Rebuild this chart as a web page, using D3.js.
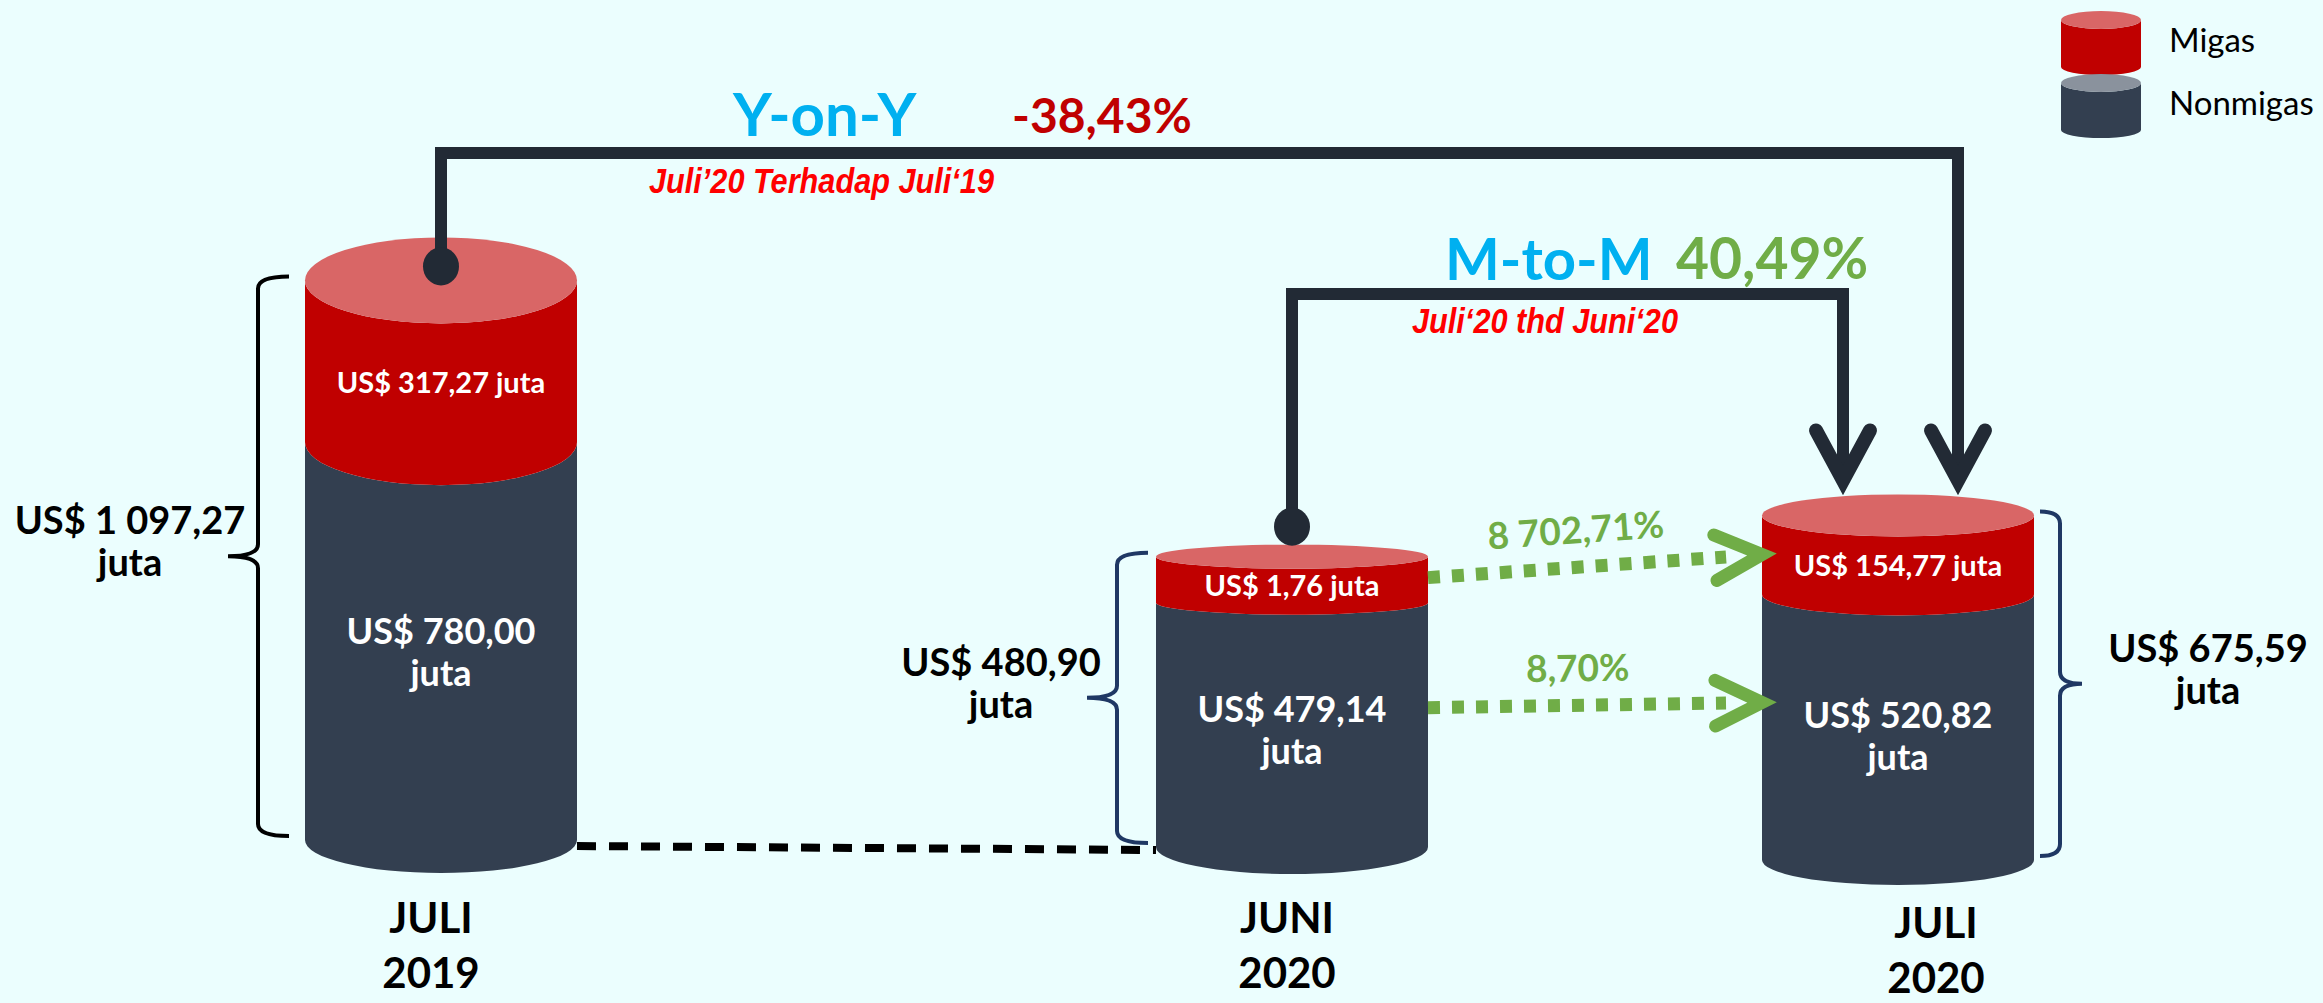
<!DOCTYPE html>
<html>
<head>
<meta charset="utf-8">
<style>
    body { margin: 0; background: #ebfefe; }
    svg { display: block; font-family: Lato, "Open Sans", sans-serif; }
    .note { font-family: "Liberation Sans Narrow", "Arial Narrow", "Liberation Sans", sans-serif; font-style: italic; font-weight: bold; fill: #ff0000; }
</style>
</head>
<body>
<svg id="chart" width="2323" height="1003"></svg>
<script src="https://cdn.jsdelivr.net/npm/d3@7"></script>
<script>
    // values (US$ juta)
    const months = ["JULI", "JUNI", "JULI"];
    const years = ["2019", "2020", "2020"];
    const migas = [317.27, 1.76, 154.77];
    const nonmigas = [780.00, 479.14, 520.82];
    const totals = [1097.27, 480.90, 675.59];
    const seriesNames = ["Migas", "Nonmigas"];
    const yoyChange = -38.43;
    const mtmChange = 40.49;
    const growthMigas = 8702.71;
    const growthNonmigas = 8.70;
    const yoyNote = "Juli’20 Terhadap Juli‘19";
    const mtmNote = "Juli‘20 thd Juni‘20";

    // layout
    const RX = 136;
    const ryTop = [43, 12, 21];
    const ryBot = [33, 27, 25];
    const braceCfg = [
        {side: -1, tip: 16, v: 47, pt: 77, color: "#000000", labelDx: -311},
        {side: -1, tip: 8, v: 39, pt: 69, color: "#1f3864", labelDx: -291},
        {side: 1, tip: 6, v: 26, pt: 48, color: "#1f3864", labelDx: 310}
    ];
    const catDx = [-10, -5, 38];
    const catY = [933, 933, 938];

    const C = {
        red: "#c00000", redTop: "#d96666", dark: "#333f50", grayTop: "#8a929d",
        line: "#222a35", blue: "#00b0f0", green: "#70ad47"
    };

    const loc = d3.formatLocale({decimal: ",", thousands: " ", grouping: [3], currency: ["US$ ", ""], minus: "-"});
    const money = loc.format("$,.2f");
    const num = loc.format(",.2f");

    const svg = d3.select("#chart");
    svg.append("rect").attr("width", 2323).attr("height", 1003).attr("fill", "#ebfefe");

    const idx = d3.range(months.length);
    const x = d3.scaleOrdinal().domain(idx).range([441, 1292, 1898]);
    const base = d3.scaleOrdinal().domain(idx).range([840, 847, 860]);
    const h = d3.scaleLinear().domain([0, 1100]).range([0, 561]);
    const minBand = 46;

    const cyl = idx.map(i => {
        const bottom = base(i);
        const mid = bottom - h(nonmigas[i]);
        const top = mid - Math.max(h(migas[i]), minBand);
        return {i, cx: x(i), bottom, mid, top, ryT: ryTop[i], ryB: ryBot[i]};
    });

    function band(cx, rx, y0, y1, r0, r1) {
        return `M${cx - rx},${y0} L${cx - rx},${y1} A${rx},${r1} 0 0 0 ${cx + rx},${y1}` +
            ` L${cx + rx},${y0} A${rx},${r0} 0 0 1 ${cx - rx},${y0} Z`;
    }

    // dashed baseline between first two cylinders
    svg.append("line")
        .attr("x1", cyl[0].cx + RX).attr("y1", cyl[0].bottom + 6)
        .attr("x2", cyl[1].cx - RX).attr("y2", cyl[1].bottom + 3)
        .attr("stroke", "#000").attr("stroke-width", 8).attr("stroke-dasharray", "19 13");

    // cylinders
    const g = svg.selectAll("g.cyl").data(cyl).enter().append("g").attr("class", "cyl");
    g.append("path").attr("fill", C.dark)
        .attr("d", d => band(d.cx, RX, d.mid, d.bottom, d.ryT, d.ryB));
    g.append("path").attr("fill", C.red)
        .attr("d", d => band(d.cx, RX, d.top, d.mid, d.ryT, d.ryT));
    g.append("ellipse").attr("fill", C.redTop)
        .attr("cx", d => d.cx).attr("cy", d => d.top).attr("rx", RX).attr("ry", d => d.ryT);

    // labels inside
    g.append("text")
        .attr("x", d => d.cx).attr("y", d => (d.top + d.ryT + d.mid) / 2)
        .attr("dy", "0.35em").attr("text-anchor", "middle")
        .attr("fill", "#fff").attr("font-weight", "bold").attr("font-size", 29)
        .text(d => money(migas[d.i]) + " juta");
    const innerY = d => d.mid + d.ryT + 0.42 * (d.bottom - d.mid - d.ryT) + 10;
    const inner = g.append("text")
        .attr("text-anchor", "middle").attr("fill", "#fff").attr("font-weight", "bold").attr("font-size", 36);
    inner.append("tspan").attr("x", d => d.cx).attr("y", innerY)
        .text(d => money(nonmigas[d.i]));
    inner.append("tspan").attr("x", d => d.cx).attr("y", d => innerY(d) + 42)
        .text("juta");

    // braces with totals
    g.append("path")
        .attr("fill", "none").attr("stroke-width", 4)
        .attr("stroke", d => braceCfg[d.i].color)
        .attr("d", d => {
            const b = braceCfg[d.i], s = b.side;
            const edge = d.cx + s * RX;
            const tx = edge + s * b.tip, vx = edge + s * b.v, px = edge + s * b.pt;
            const t = d.top - 4, bt = d.bottom - 4, m = (t + bt) / 2, r = 12;
            return `M${tx},${t} Q${vx},${t} ${vx},${t + r} L${vx},${m - r} Q${vx},${m} ${px},${m}` +
                ` Q${vx},${m} ${vx},${m + r} L${vx},${bt - r} Q${vx},${bt} ${tx},${bt}`;
        });
    const tot = g.append("text")
        .attr("text-anchor", "middle").attr("fill", "#000").attr("font-weight", "bold").attr("font-size", 38);
    tot.append("tspan").attr("x", d => d.cx + braceCfg[d.i].labelDx)
        .attr("y", d => (d.top + d.bottom) / 2 - 26).text(d => money(totals[d.i]));
    tot.append("tspan").attr("x", d => d.cx + braceCfg[d.i].labelDx)
        .attr("y", d => (d.top + d.bottom) / 2 + 16).text("juta");

    // category labels
    const cat = g.append("text")
        .attr("text-anchor", "middle").attr("fill", "#000").attr("font-weight", "bold").attr("font-size", 42);
    cat.append("tspan").attr("x", d => d.cx + catDx[d.i]).attr("y", d => catY[d.i]).text(d => months[d.i]);
    cat.append("tspan").attr("x", d => d.cx + catDx[d.i]).attr("y", d => catY[d.i] + 55).text(d => years[d.i]);

    // comparison connectors
    const links = [
        {from: 0, to: 2, level: 153, dotDy: -14, endDx: 60},
        {from: 1, to: 2, level: 294, dotDy: -30, endDx: -55}
    ];
    links.forEach(l => {
        const a = cyl[l.from], b = cyl[l.to];
        const sx = a.cx, sy = a.top + l.dotDy;
        const ex = b.cx + l.endDx, ey = b.top - b.ryT - 14;
        svg.append("path").attr("fill", "none").attr("stroke", C.line).attr("stroke-width", 12)
            .attr("d", `M${sx},${sy} V${l.level} H${ex} V${ey - 4}`);
        svg.append("path").attr("fill", "none").attr("stroke", C.line).attr("stroke-width", 14)
            .attr("stroke-linecap", "round").attr("stroke-linejoin", "miter")
            .attr("d", `M${ex - 27},${ey - 50} L${ex},${ey} L${ex + 27},${ey - 50}`);
        svg.append("ellipse").attr("fill", C.line)
            .attr("cx", sx).attr("cy", sy).attr("rx", 18).attr("ry", 19);
    });

    // headline texts
    svg.append("text").attr("x", 733).attr("y", 136)
        .attr("fill", C.blue).attr("font-weight", "bold").attr("font-size", 60).text("Y-on-Y");
    svg.append("text").attr("x", 1012).attr("y", 133)
        .attr("fill", C.red).attr("font-weight", "bold").attr("font-size", 48).text(num(yoyChange) + "%");
    svg.append("text").attr("class", "note").attr("x", 649).attr("y", 193)
        .attr("font-size", 35).attr("textLength", 345).attr("lengthAdjust", "spacingAndGlyphs").text(yoyNote);

    svg.append("text").attr("x", 1445).attr("y", 280)
        .attr("fill", C.blue).attr("font-weight", "bold").attr("font-size", 58).text("M-to-M");
    svg.append("text").attr("x", 1676).attr("y", 279)
        .attr("fill", C.green).attr("font-weight", "bold").attr("font-size", 57).text(num(mtmChange) + "%");
    svg.append("text").attr("class", "note").attr("x", 1412).attr("y", 333)
        .attr("font-size", 35).attr("textLength", 266).attr("lengthAdjust", "spacingAndGlyphs").text(mtmNote);

    // growth arrows (green, dotted)
    const flows = [
        {value: growthMigas, y0: 21, y1: 39},
        {value: growthNonmigas, y0: 151, y1: 187}
    ];
    flows.forEach(f => {
        const a = cyl[1], b = cyl[2];
        const x0 = a.cx + RX, y0 = a.top + f.y0;
        const x1 = b.cx - RX, y1 = b.top + f.y1;
        const ang = Math.atan2(y1 - y0, x1 - x0);
        const ux = Math.cos(ang), uy = Math.sin(ang);
        svg.append("line").attr("x1", x0).attr("y1", y0)
            .attr("x2", x1 - 36 * ux).attr("y2", y1 - 36 * uy)
            .attr("stroke", C.green).attr("stroke-width", 13).attr("stroke-dasharray", "12 12");
        const L = 52, s = 26 * Math.PI / 180;
        const p1 = [x1 - L * Math.cos(ang - s), y1 - L * Math.sin(ang - s)];
        const p2 = [x1 - L * Math.cos(ang + s), y1 - L * Math.sin(ang + s)];
        svg.append("path").attr("fill", "none").attr("stroke", C.green).attr("stroke-width", 13)
            .attr("stroke-linecap", "round")
            .attr("d", `M${p1[0]},${p1[1]} L${x1},${y1} L${p2[0]},${p2[1]}`);
        const lx = x0 + 0.45 * (x1 - x0) + 24 * uy, ly = y0 + 0.45 * (y1 - y0) - 24 * ux;
        svg.append("text").attr("text-anchor", "middle")
            .attr("transform", `translate(${lx},${ly}) rotate(${ang * 180 / Math.PI})`)
            .attr("fill", C.green).attr("font-weight", "bold").attr("font-size", 37)
            .text(num(f.value) + "%");
    });

    // legend
    const legend = svg.selectAll("g.legend").data(seriesNames).enter().append("g").attr("class", "legend");
    legend.append("path").attr("fill", (d, i) => i === 0 ? C.red : C.dark)
        .attr("d", (d, i) => band(2101, 40, 20 + i * 63, 67 + i * 63, 9, 8));
    legend.append("ellipse").attr("fill", (d, i) => i === 0 ? C.redTop : C.grayTop)
        .attr("cx", 2101).attr("cy", (d, i) => 20 + i * 63).attr("rx", 40).attr("ry", 9);
    legend.append("text").attr("x", 2169).attr("y", (d, i) => 52 + i * 63)
        .attr("font-size", 33).attr("fill", "#000").text(d => d);
</script>
</body>
</html>
